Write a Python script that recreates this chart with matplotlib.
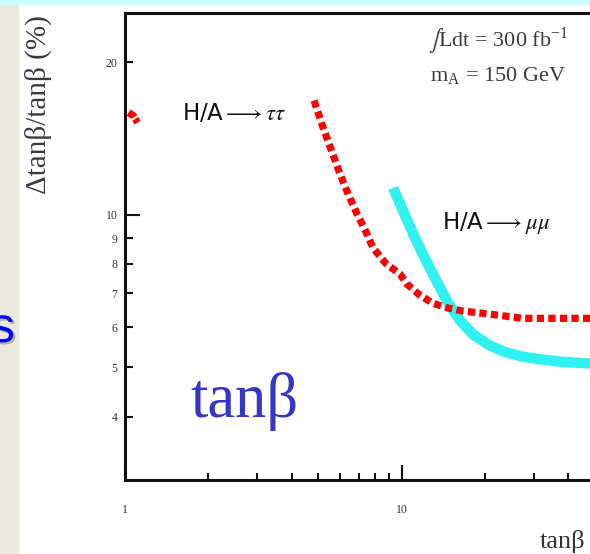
import matplotlib
matplotlib.use("Agg")
import matplotlib.pyplot as plt
import matplotlib.patheffects as pe
from matplotlib.patches import Rectangle
from matplotlib.ticker import FixedLocator, NullFormatter, FixedFormatter

plt.rcParams["mathtext.fontset"] = "stix"
plt.rcParams["font.family"] = ["Liberation Serif", "DejaVu Serif"]

# H/A -> tau tau precision vs tan(beta)
tautau_x = [4.82, 5.19, 5.6, 5.98, 6.4, 6.89, 7.4, 7.88, 8.8, 9.86, 10.45,
            11.6, 12.97, 14.7, 16.65, 20.8, 27.4, 35.0, 48.0]
tautau_y = [16.8, 14.9, 13.3, 12.05, 11.0, 10.05, 9.3, 8.6, 8.0, 7.64, 7.30,
            6.95, 6.69, 6.55, 6.46, 6.37, 6.25, 6.25, 6.25]
# isolated low tan(beta) points of the same channel
tautau_low_x = [1.03, 1.07, 1.11]
tautau_low_y = [15.9, 15.7, 15.2]

# H/A -> mu mu precision vs tan(beta)
mumu_x = [9.30, 10.1, 11.0, 12.0, 12.97, 14.6, 16.2, 18.1, 20.5, 23.2, 27.0,
          31.6, 38.0, 48.0]
mumu_y = [11.3, 10.2, 9.17, 8.3, 7.64, 6.75, 6.2, 5.81, 5.55, 5.38, 5.26,
          5.19, 5.13, 5.09]

y_minor = [4, 5, 6, 7, 8, 9, 20]
y_minor_labels = ["4", "5", "6", "7", "8", "9", "20"]
x_minor = [2, 3, 4, 5, 6, 7, 8, 9, 20, 30, 40]

W, H = 590, 554
fig = plt.figure(figsize=(W / 100, H / 100), dpi=100)
fig.patch.set_facecolor("white")

# slide background strips
fig.patches.append(Rectangle((0, 0), 18 / W, 1, transform=fig.transFigure,
                             color="#ece9df", zorder=0))
fig.patches.append(Rectangle((0, 1 - 4 / H), 1, 4 / H, transform=fig.transFigure,
                             color="#ccffff", zorder=0))

decade = 276.7
ax = fig.add_axes([125 / W, 74 / H, 1.78 * decade / W, 467 / H])
ax.set_xscale("log")
ax.set_yscale("log")
ax.set_xlim(1, 10 ** 1.78)
ax.set_ylim(3, 25)

ax.plot(tautau_x, tautau_y, color="#ff0000", lw=5.2,
        linestyle=(0, (1.0, 0.6)), dash_capstyle="butt", zorder=3)
ax.plot(tautau_low_x, tautau_low_y, color="#ff0000", lw=5.2,
        linestyle=(0, (1.0, 0.3)), dash_capstyle="butt", zorder=3)
ax.plot(mumu_x, mumu_y, color="#30f2f2", lw=7.5, solid_capstyle="butt", zorder=2)

for side in ("top", "left", "bottom"):
    ax.spines[side].set_linewidth(2.2)
    ax.spines[side].set_color("#111111")
ax.spines["right"].set_visible(False)

ax.yaxis.set_major_locator(FixedLocator([10]))
ax.yaxis.set_major_formatter(FixedFormatter(["10"]))
ax.yaxis.set_minor_locator(FixedLocator(y_minor))
ax.yaxis.set_minor_formatter(FixedFormatter(y_minor_labels))
ax.xaxis.set_major_locator(FixedLocator([1, 10]))
ax.xaxis.set_major_formatter(FixedFormatter(["1", "10"]))
ax.xaxis.set_minor_locator(FixedLocator(x_minor))
ax.xaxis.set_minor_formatter(NullFormatter())

ax.tick_params(which="both", direction="in", top=False, right=False,
               width=1.5, color="#111111", labelsize=8.5, labelcolor="#333333")
ax.tick_params(which="major", length=10.5)
ax.tick_params(which="minor", length=5.4)
ax.tick_params(axis="y", which="both", pad=5.5)
ax.tick_params(axis="x", which="both", pad=17)

fig.text(38 / W, 1 - 105 / H, "\u0394tan\u03b2/tan\u03b2 (%)", rotation=90,
         ha="center", va="center", fontsize=21, color="#3a3a3a")
fig.text(428 / W, 1 - 40 / H, r"$\int$Ldt = 300 fb$^{\mathregular{-1}}$",
         ha="left", va="center", fontsize=16, color="#3a3a3a")
fig.text(430 / W, 1 - 76 / H, r"m$_{\mathregular{A}}$ = 150 GeV",
         ha="left", va="center", fontsize=16, color="#3a3a3a")
fig.text(182 / W, 1 - 114 / H, r"H/A$\longrightarrow\tau\tau$",
         ha="left", va="center", fontsize=16.5, color="#111111",
         family=["DejaVu Sans"])
fig.text(442 / W, 1 - 223 / H, r"H/A$\longrightarrow\mu\mu$",
         ha="left", va="center", fontsize=16.5, color="#111111",
         family=["DejaVu Sans"])
fig.text(540 / W, 1 - 548 / H, "tan\u03b2", ha="left", va="baseline",
         fontsize=19, color="#333333")
fig.text(190 / W, 1 - 417 / H, "tan\u03b2", ha="left", va="baseline",
         fontsize=45, color="#3535c8")

# slide text clipped at the left edge, with a drop shadow
fig.text(15 / W, 1 - 342 / H, "s", ha="right", va="baseline", fontsize=36,
         color="#0000ff", family=["Liberation Sans", "DejaVu Sans"],
         path_effects=[pe.SimplePatchShadow(offset=(1.5, -1.5),
                                            shadow_rgbFace="#a0a0a0", alpha=0.8),
                       pe.Normal()])

fig.savefig("out.png", dpi=100)
